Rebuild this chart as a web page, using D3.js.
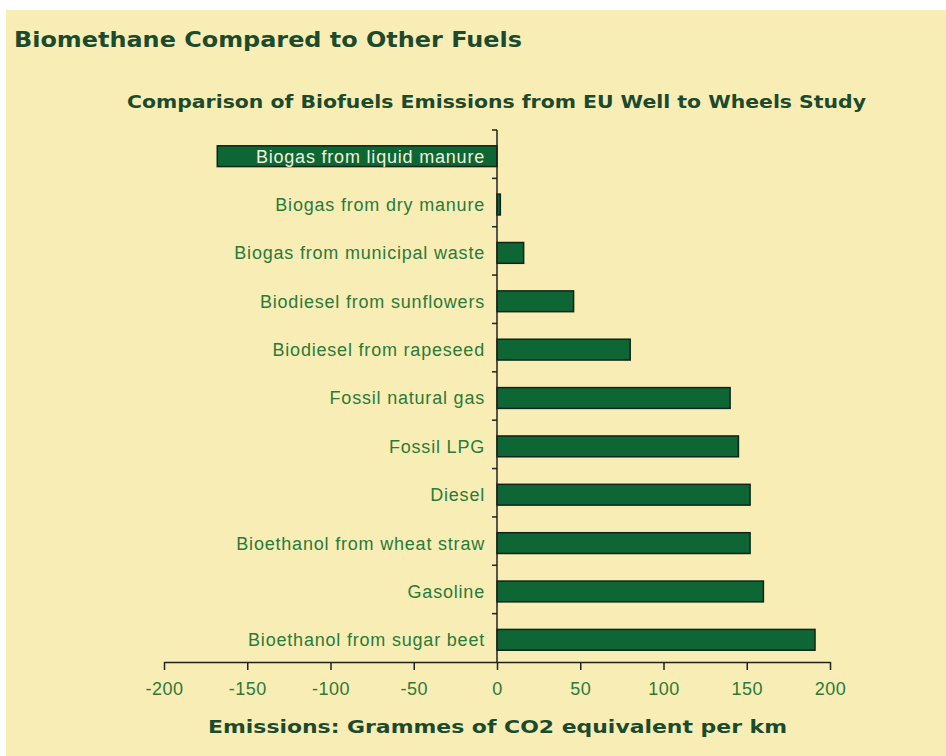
<!DOCTYPE html>
<html>
<head>
<meta charset="utf-8">
<script src="https://cdn.jsdelivr.net/npm/d3@7"></script>
<style>
  body { margin: 0; background: #fff; }
</style>
</head>
<body>
<div id="chart"></div>
<script>
const fuels = [
  "Biogas from liquid manure",
  "Biogas from dry manure",
  "Biogas from municipal waste",
  "Biodiesel from sunflowers",
  "Biodiesel from rapeseed",
  "Fossil natural gas",
  "Fossil LPG",
  "Diesel",
  "Bioethanol from wheat straw",
  "Gasoline",
  "Bioethanol from sugar beet"
];
const emissions = [-168, 2, 16, 46, 80, 140, 145, 152, 152, 160, 191];
const xTicks = [-200, -150, -100, -50, 0, 50, 100, 150, 200];

const width = 946;
const height = 756;

const svg = d3
  .select("#chart")
  .append("svg")
  .attr("width", width)
  .attr("height", height)
  .style("font-family", "'Liberation Sans', Arial, sans-serif");

svg
  .append("rect")
  .attr("x", 6)
  .attr("y", 10)
  .attr("width", width - 6)
  .attr("height", height - 10)
  .attr("fill", "#f9edb6");

function boldText(txt, xPos, yPos, size, len, anchor) {
  return svg
    .append("text")
    .attr("x", xPos)
    .attr("y", yPos)
    .attr("text-anchor", anchor)
    .attr("textLength", len)
    .attr("lengthAdjust", "spacingAndGlyphs")
    .text(txt)
    .style("font-family", "'DejaVu Sans', Verdana, sans-serif")
    .style("font-weight", "bold")
    .style("font-size", size + "px")
    .attr("fill", "#1b4a2c");
}

boldText("Biomethane Compared to Other Fuels", 14, 47, 21, 508, "start");
boldText("Comparison of Biofuels Emissions from EU Well to Wheels Study", 127, 108, 17.5, 739, "start");
boldText("Emissions: Grammes of CO2 equivalent per km", 208, 733, 18, 579, "start");

const x = d3.scaleLinear().domain([-200, 200]).range([164, 830]);
const y = d3.scaleBand().domain(fuels).range([132, 664]).paddingInner(0.57).paddingOuter(0.285);

const bandStep = y.step();

// bars
svg
  .append("g")
  .selectAll("rect")
  .data(fuels)
  .enter()
  .append("rect")
  .attr("x", (d, i) => x(Math.min(0, emissions[i])))
  .attr("y", (d) => y(d))
  .attr("width", (d, i) => Math.abs(x(emissions[i]) - x(0)))
  .attr("height", y.bandwidth())
  .attr("fill", "#0d6634")
  .attr("stroke", "#10251a")
  .attr("stroke-width", 1.5);

// category labels
svg
  .append("g")
  .selectAll("text")
  .data(fuels)
  .enter()
  .append("text")
  .attr("x", 485)
  .attr("y", (d) => y(d) + y.bandwidth() / 2)
  .attr("dy", "0.36em")
  .attr("text-anchor", "end")
  .text((d) => d)
  .style("font-size", "18px")
  .style("letter-spacing", "0.8px")
  .attr("fill", (d, i) => (emissions[i] < -100 ? "#f4f1dc" : "#2a7a38"));

// y axis line with ticks between categories
const yAxis = svg.append("g").attr("stroke", "#222").attr("stroke-width", 1.5);
yAxis
  .append("line")
  .attr("x1", x(0))
  .attr("x2", x(0))
  .attr("y1", 130)
  .attr("y2", 662);
yAxis
  .selectAll("line.tick")
  .data(d3.range(fuels.length))
  .enter()
  .append("line")
  .attr("class", "tick")
  .attr("x1", x(0) - 5)
  .attr("x2", x(0))
  .attr("y1", (i) => 130 + i * bandStep)
  .attr("y2", (i) => 130 + i * bandStep);

// x axis
const xAxis = svg
  .append("g")
  .attr("transform", "translate(0,662)")
  .call(d3.axisBottom(x).tickValues(xTicks).tickSize(8).tickSizeOuter(0).tickPadding(12).tickFormat(d3.format("d")));

xAxis.select(".domain").attr("stroke", "#222").attr("stroke-width", 1.5);
xAxis.selectAll(".tick line").attr("stroke", "#222").attr("stroke-width", 1.5);
xAxis
  .selectAll(".tick text")
  .style("font-family", "'Liberation Sans', Arial, sans-serif")
  .style("font-size", "18px")
  .style("letter-spacing", "0.5px")
  .attr("fill", "#2a7a38")
  .text((d) => (d < 0 ? "-" + Math.abs(d) : d));
</script>
</body>
</html>
